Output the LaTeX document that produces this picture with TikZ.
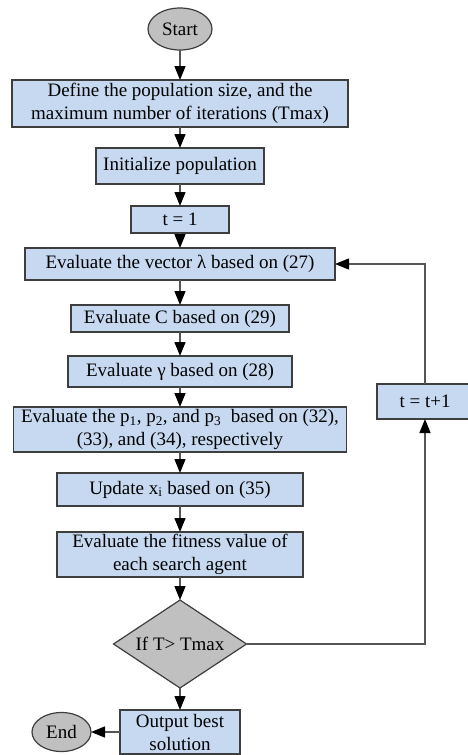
\documentclass[tikz,border=0pt]{standalone}
\usepackage{fontspec}
\setmainfont{Liberation Serif}
\usepackage{xcolor}
\definecolor{boxblue}{RGB}{198,217,240}
\definecolor{termgray}{RGB}{192,192,192}
\definecolor{edgegray}{RGB}{62,62,62}
\definecolor{linegray}{RGB}{85,85,85}
\usepackage{tikz}
\usetikzlibrary{shapes.geometric,arrows.meta,positioning}

\begin{document}
\begin{tikzpicture}[
    term/.style={ellipse, draw=edgegray, fill=termgray, line width=1.2pt,
                 inner sep=0pt, outer sep=0pt, font=\fontsize{19}{23}\selectfont},
    proc/.style={rectangle, draw=edgegray, fill=boxblue, line width=1.4pt,
                 inner sep=0pt, outer sep=0pt, align=center,
                 font=\fontsize{19}{23}\selectfont},
    cond/.style={diamond, draw=edgegray, fill=termgray, line width=1.2pt,
                 aspect=1.5, inner sep=0pt, outer sep=0pt,
                 minimum width=133pt, minimum height=88pt,
                 font=\fontsize{19}{23}\selectfont},
    arr/.style={-{Triangle[length=14pt, width=11pt, color=black]},
                line width=1.4pt, draw=linegray},
  ]
  \useasboundingbox (0,0) rectangle (468pt,-755pt);

  %% MAIN COLUMN
  \node[term, minimum width=64pt, minimum height=42pt] (start) at (180pt,-29pt) {Start};
  \node[proc, minimum width=336pt, minimum height=47pt, below=30pt of start] (define)
    {Define the population size, and the\\maximum number of iterations (Tmax)};
  \node[proc, minimum width=168pt, minimum height=36pt, below=21pt of define] (init)
    {Initialize population};
  \node[proc, minimum width=98pt, minimum height=27pt, below=22pt of init] (tone)
    {t = 1};
  \node[proc, minimum width=310pt, minimum height=32pt, below=15pt of tone] (lambda)
    {Evaluate the vector λ based on (27)};
  \node[proc, minimum width=218pt, minimum height=27pt, below=25pt of lambda] (evalc)
    {Evaluate C based on (29)};
  \node[proc, minimum width=224pt, minimum height=31pt, below=24pt of evalc] (gamma)
    {Evaluate γ based on (28)};
  \node[proc, minimum width=333pt, minimum height=45pt, below=20pt of gamma] (pvals)
    {Evaluate the p\textsubscript{1}, p\textsubscript{2}, and p\textsubscript{3}\ \ based on (32),\\(33), and (34), respectively};
  \node[proc, minimum width=246pt, minimum height=33pt, below=21pt of pvals] (update)
    {Update x\textsubscript{i} based on (35)};
  \node[proc, minimum width=246pt, minimum height=45pt, below=26pt of update] (fitness)
    {Evaluate the fitness value of\\each search agent};
  \node[cond, below=23pt of fitness] (test) {If T> Tmax};
  \node[proc, minimum width=120pt, minimum height=44pt, below=22pt of test] (output)
    {Output best\\solution};
  \node[term, minimum width=59pt, minimum height=39pt, left=29pt of output] (end) {End};

  %% LOOP
  \node[proc, minimum width=96pt, minimum height=35pt] (tnext) at (425pt,-401.5pt)
    {t = t+1};

  \draw[arr] (start)--(define);
  \draw[arr] (define)--(init);
  \draw[arr] (init)--(tone);
  \draw[arr] (tone)--(lambda);
  \draw[arr] (lambda)--(evalc);
  \draw[arr] (evalc)--(gamma);
  \draw[arr] (gamma)--(pvals);
  \draw[arr] (pvals)--(update);
  \draw[arr] (update)--(fitness);
  \draw[arr] (fitness)--(test);
  \draw[arr] (test)--(output);
  \draw[arr] (output)--(end);
  \draw[arr] (test.east) -| (tnext.south);
  \draw[arr] (tnext.north) |- (lambda.east);

\end{tikzpicture}
\end{document}
